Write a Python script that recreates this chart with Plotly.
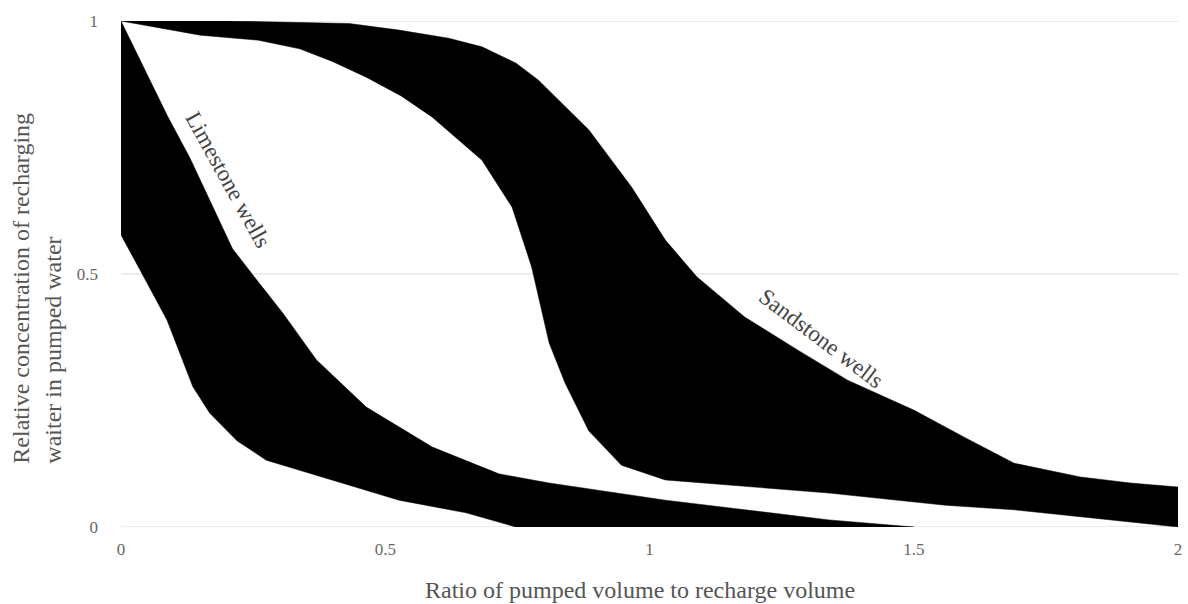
import plotly.graph_objects as go

# Envelope of relative concentration vs. pumped/recharge volume ratio
limestone_upper_x = [0, 0.042, 0.087, 0.13, 0.17, 0.211, 0.257, 0.306, 0.37, 0.464, 0.589, 0.715, 0.81, 1.03, 1.34, 1.5]
limestone_upper_y = [1, 0.909, 0.814, 0.73, 0.64, 0.55, 0.488, 0.423, 0.33, 0.237, 0.158, 0.105, 0.087, 0.053, 0.014, 0.0]
limestone_lower_x = [0, 0.036, 0.087, 0.136, 0.168, 0.22, 0.275, 0.4, 0.526, 0.653, 0.747]
limestone_lower_y = [0.577, 0.508, 0.409, 0.277, 0.225, 0.17, 0.132, 0.093, 0.053, 0.028, 0.0]

sandstone_upper_x = [0, 0.2, 0.432, 0.526, 0.62, 0.683, 0.747, 0.79, 0.885, 0.966, 1.03, 1.09, 1.18, 1.28,
                     1.375, 1.5, 1.6, 1.69, 1.815, 1.91, 2.0]
sandstone_upper_y = [1, 1, 0.995, 0.982, 0.966, 0.949, 0.917, 0.883, 0.785, 0.672, 0.567, 0.494, 0.415, 0.35,
                     0.29, 0.231, 0.175, 0.126, 0.099, 0.087, 0.079]
sandstone_lower_x = [0, 0.15, 0.26, 0.338, 0.4, 0.464, 0.53, 0.589, 0.683, 0.74, 0.777, 0.81, 0.84, 0.885,
                     0.947, 1.03, 1.34, 1.56, 1.69, 2.0]
sandstone_lower_y = [1, 0.972, 0.962, 0.945, 0.92, 0.889, 0.852, 0.81, 0.725, 0.632, 0.514, 0.364, 0.285, 0.19,
                     0.122, 0.093, 0.067, 0.043, 0.034, 0.0]

x_ticks = [0, 0.5, 1, 1.5, 2]
x_tick_labels = ["0", "0.5", "1", "1.5", "2"]
y_ticks = [0, 0.5, 1]
y_tick_labels = ["0", "0.5", "1"]

SERIF = "Liberation Serif, Times New Roman, serif"
GRID = "#d9d9d9"


def band(ux, uy, lx, ly, name):
    return go.Scatter(
        x=ux + lx[::-1] + [ux[0]],
        y=uy + ly[::-1] + [uy[0]],
        mode="lines",
        fill="toself",
        fillcolor="black",
        line=dict(color="black", width=0.5),
        name=name,
        showlegend=False,
        hoverinfo="skip",
    )


fig = go.Figure()
fig.add_trace(band(limestone_upper_x, limestone_upper_y, limestone_lower_x, limestone_lower_y, "Limestone wells"))
fig.add_trace(band(sandstone_upper_x, sandstone_upper_y, sandstone_lower_x, sandstone_lower_y, "Sandstone wells"))

# horizontal gridlines at every y tick, kept beneath the bands
for yv in y_ticks:
    fig.add_shape(type="line", xref="paper", yref="y", x0=0, x1=1, y0=yv, y1=yv,
                  line=dict(color=GRID, width=1), layer="below")

fig.update_layout(
    width=1188,
    height=604,
    margin=dict(l=121, r=6, t=21, b=77),
    paper_bgcolor="white",
    plot_bgcolor="white",
    font=dict(family=SERIF, color="#555555"),
    xaxis=dict(
        range=[0, 2],
        tickvals=x_ticks,
        ticktext=x_tick_labels,
        showgrid=False,
        zeroline=False,
        showline=False,
        ticks="",
        tickfont=dict(size=17, color="#666666"),
        ticklabelstandoff=10,
    ),
    yaxis=dict(
        range=[0, 1],
        tickvals=y_ticks,
        ticktext=y_tick_labels,
        showgrid=False,
        zeroline=False,
        showline=False,
        ticks="",
        tickfont=dict(size=17, color="#666666"),
        ticklabelstandoff=22,
    ),
    annotations=[
        dict(
            text="Limestone wells",
            x=0.2017, y=0.686, xref="x", yref="y",
            textangle=61, showarrow=False,
            font=dict(family=SERIF, size=23, color="#444444"),
        ),
        dict(
            text="Sandstone wells",
            x=1.325, y=0.3735, xref="x", yref="y",
            textangle=37, showarrow=False,
            font=dict(family=SERIF, size=23, color="#444444"),
        ),
        dict(
            text="Relative concentration of recharging<br>waiter in pumped water",
            x=0, y=0.472, xref="paper", yref="paper",
            xanchor="right", yanchor="middle", xshift=-54,
            textangle=-90, align="left", showarrow=False,
            font=dict(family=SERIF, size=24, color="#555555"),
        ),
        dict(
            text="Ratio of pumped volume to recharge volume",
            x=0.4906, y=-0.1245, xref="paper", yref="paper",
            xanchor="center", yanchor="middle", showarrow=False,
            font=dict(family=SERIF, size=24, color="#555555"),
        ),
    ],
)

fig.write_html("out.html")
